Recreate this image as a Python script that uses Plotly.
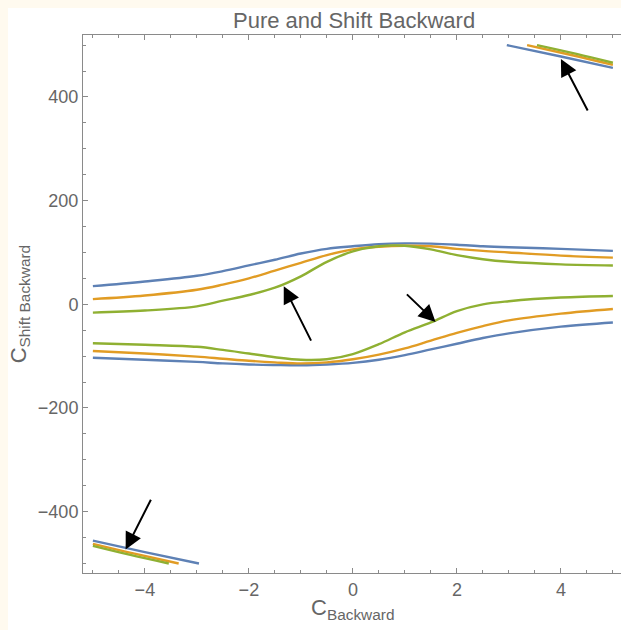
import plotly.graph_objects as go

# ---- data ----
x_main = [-5, -4, -3, -2.5, -2, -1.5, -1, -0.5, 0, 0.5, 1, 1.5, 2, 2.5, 3, 4, 5]

blue_top = [35, 44, 55, 64, 75, 86, 98, 107, 112, 116, 117.5, 117, 115, 112, 110, 107, 103]
orange_top = [10, 17, 28, 38, 50, 65, 80, 95, 106, 111, 113, 112, 107, 103, 100, 94, 90]
green_top = [-16, -12, -4, 7, 18, 32, 54, 82, 102, 112, 113, 106, 95, 87, 82, 77, 75]

blue_bottom = [-103, -107, -111, -114, -116, -117, -117.5, -116, -113, -107, -98, -87, -76, -65, -56, -43, -35]
orange_bottom = [-90, -95, -101, -105, -109, -112, -114, -112, -106, -97, -85, -70, -55, -42, -31, -18, -9]
green_bottom = [-75, -78, -82, -88, -95, -102, -107, -106, -96, -77, -54, -35, -13, 0, 6, 13, 16]

# corner branches
blue_tr_x = [2.96, 4, 5]
blue_tr_y = [500, 478, 456]
orange_tr_x = [3.35, 4.2, 5]
orange_tr_y = [500, 481, 462]
green_tr_x = [3.54, 4.3, 5]
green_tr_y = [500, 483, 466]

blue_bl_x = [-5, -4, -2.96]
blue_bl_y = [-456, -478, -500]
orange_bl_x = [-5, -4.2, -3.35]
orange_bl_y = [-462, -481, -500]
green_bl_x = [-5, -4.3, -3.54]
green_bl_y = [-466, -483, -500]

# arrows: (tail_x, tail_y, tip_x, tip_y)
arrows = [
    (4.53, 371, 4.0, 473),
    (-0.79, -73, -1.33, 35),
    (1.01, 22, 1.59, -34),
    (-3.87, -374, -4.37, -473),
]

x_ticks = [-4, -2, 0, 2, 4]
y_ticks = [-400, -200, 0, 200, 400]

title_text = "Pure and Shift Backward"
x_label = "C<sub>Backward</sub>"
y_label = "C<sub>Shift Backward</sub>"

BLUE = "#5E81B5"
ORANGE = "#E19C24"
GREEN = "#8FB032"
LW = 2.4

fig = go.Figure()

series = [
    (x_main, blue_top, BLUE), (x_main, blue_bottom, BLUE),
    (blue_tr_x, blue_tr_y, BLUE), (blue_bl_x, blue_bl_y, BLUE),
    (x_main, orange_top, ORANGE), (x_main, orange_bottom, ORANGE),
    (orange_tr_x, orange_tr_y, ORANGE), (orange_bl_x, orange_bl_y, ORANGE),
    (x_main, green_top, GREEN), (x_main, green_bottom, GREEN),
    (green_tr_x, green_tr_y, GREEN), (green_bl_x, green_bl_y, GREEN),
]
for xs, ys, c in series:
    fig.add_trace(go.Scatter(x=xs, y=ys, mode="lines",
                             line=dict(color=c, width=LW, shape="spline", smoothing=1.0),
                             showlegend=False, hoverinfo="skip"))

for tx, ty, hx, hy in arrows:
    fig.add_annotation(x=hx, y=hy, ax=tx, ay=ty, xref="x", yref="y", axref="x", ayref="y",
                       showarrow=True, arrowhead=2, arrowsize=1.7, arrowwidth=2,
                       arrowcolor="black", text="")

GRAY_TXT = "#666666"
FRAME = "#8a8a8a"
FONT = "Liberation Sans, Arial, sans-serif"

fig.add_annotation(text=title_text, xref="x", yref="paper", x=0.02, y=1.027,
                   xanchor="center", yanchor="middle", showarrow=False,
                   font=dict(family=FONT, size=22, color=GRAY_TXT))
fig.add_annotation(text=x_label, xref="x", yref="paper", x=0, y=-0.067,
                   xanchor="center", yanchor="middle", showarrow=False,
                   font=dict(family=FONT, size=22, color=GRAY_TXT))
fig.add_annotation(text=y_label, xref="paper", yref="y", x=-0.117, y=0,
                   xanchor="center", yanchor="middle", showarrow=False, textangle=-90,
                   font=dict(family=FONT, size=22, color=GRAY_TXT))

# white page panel over the beige border
fig.add_shape(type="rect", xref="paper", yref="paper", x0=-0.1394, x1=1.01, y0=-0.12, y1=1.0502,
              fillcolor="white", line=dict(width=0), layer="below")

fig.update_layout(
    width=621, height=630,
    margin=dict(l=83, r=0, t=35, b=57),
    paper_bgcolor="#fffaef",
    plot_bgcolor="white",
    font=dict(family=FONT, size=18, color=GRAY_TXT),
)
fig.update_xaxes(range=[-5.19, 5.156], tickvals=x_ticks, showgrid=False, zeroline=False,
                 showline=True, linecolor=FRAME, linewidth=1, mirror="ticks",
                 ticks="inside", ticklen=5, tickcolor=FRAME, tickwidth=1,
                 tickfont=dict(family=FONT, size=18, color=GRAY_TXT),
                 minor=dict(dtick=0.5, tick0=0, ticks="inside", ticklen=3, tickcolor=FRAME, showgrid=False))
fig.update_yaxes(range=[-518.3, 519.5], tickvals=y_ticks, showgrid=False, zeroline=False,
                 showline=True, linecolor=FRAME, linewidth=1, mirror=False,
                 ticks="inside", ticklen=5, tickcolor=FRAME, tickwidth=1,
                 tickfont=dict(family=FONT, size=18, color=GRAY_TXT),
                 minor=dict(dtick=50, tick0=0, ticks="inside", ticklen=3, tickcolor=FRAME, showgrid=False))

fig.write_html("out.html")
